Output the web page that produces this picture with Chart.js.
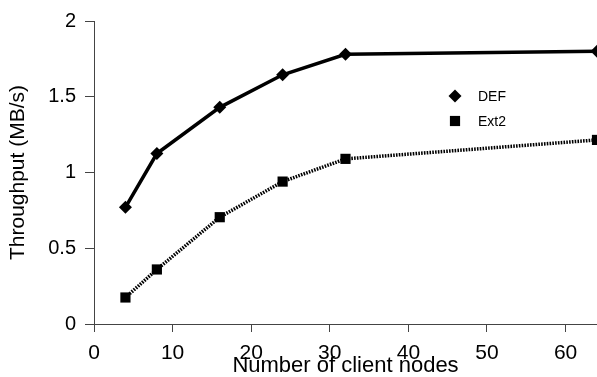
<!DOCTYPE html>
<html>
<head>
<meta charset="utf-8">
<script src="https://cdn.jsdelivr.net/npm/chart.js@4/dist/chart.umd.min.js"></script>
<style>
  html, body { margin: 0; padding: 0; background: #ffffff; }
  #wrap { width: 597px; height: 377px; position: relative; }
</style>
</head>
<body>
<div id="wrap"><canvas id="c" width="597" height="377"></canvas></div>
<script>
const clientNodes = [4, 8, 16, 24, 32, 64];
const defValues = [0.77, 1.125, 1.43, 1.645, 1.78, 1.80];
const ext2Values = [0.175, 0.36, 0.705, 0.94, 1.09, 1.215];
const seriesNames = ['DEF', 'Ext2'];
const xTitle = 'Number of client nodes';
const yTitle = 'Throughput (MB/s)';

const axisColor = '#444444';
const fontFamily = '"Liberation Sans", Arial, Helvetica, sans-serif';

const legendInArea = {
  id: 'legendInArea',
  afterDatasetsDraw(chart) {
    const ctx = chart.ctx;
    const items = [
      { x: 455, y: 96, ds: chart.data.datasets[0] },
      { x: 455, y: 121, ds: chart.data.datasets[1] }
    ];
    ctx.save();
    ctx.font = '14px ' + fontFamily;
    ctx.textBaseline = 'middle';
    ctx.textAlign = 'left';
    items.forEach(it => {
      ctx.fillStyle = '#000';
      ctx.beginPath();
      if (it.ds.pointStyle === 'rectRot') {
        const r = it.ds.pointRadius;
        ctx.moveTo(it.x - r, it.y);
        ctx.lineTo(it.x, it.y - r);
        ctx.lineTo(it.x + r, it.y);
        ctx.lineTo(it.x, it.y + r);
        ctx.closePath();
      } else {
        const s = it.ds.pointRadius * Math.SQRT1_2;
        ctx.rect(it.x - s, it.y - s, 2 * s, 2 * s);
      }
      ctx.fill();
      ctx.fillText(it.ds.label, 478, it.y + 1);
    });
    ctx.restore();
  }
};

new Chart(document.getElementById('c'), {
  type: 'line',
  data: {
    datasets: [
      {
        label: seriesNames[0],
        data: clientNodes.map((x, i) => ({ x: x, y: defValues[i] })),
        borderColor: '#000000',
        backgroundColor: '#000000',
        borderWidth: 3.5,
        pointStyle: 'rectRot',
        pointRadius: 6.5,
        pointBorderWidth: 0,
        pointBackgroundColor: '#000000',
        tension: 0,
        fill: false
      },
      {
        label: seriesNames[1],
        data: clientNodes.map((x, i) => ({ x: x, y: ext2Values[i] })),
        borderColor: '#000000',
        backgroundColor: '#000000',
        borderWidth: 3.5,
        borderDash: [1.6, 1.2],
        pointStyle: 'rect',
        pointRadius: 7.2,
        pointBorderWidth: 0,
        pointBackgroundColor: '#000000',
        tension: 0,
        fill: false
      }
    ]
  },
  options: {
    responsive: false,
    animation: false,
    devicePixelRatio: 1,
    layout: { autoPadding: false, padding: { top: 19, right: 0, bottom: 0, left: 0 } },
    plugins: {
      legend: { display: false },
      tooltip: { enabled: false },
      title: { display: false }
    },
    scales: {
      x: {
        type: 'linear',
        min: 0,
        max: 64,
        afterFit(scale) { scale.height = 53; },
        ticks: {
          stepSize: 10,
          includeBounds: false,
          color: '#000000',
          padding: 9,
          maxRotation: 0,
          font: { family: fontFamily, size: 21 }
        },
        grid: {
          drawOnChartArea: false,
          drawTicks: true,
          tickLength: 8,
          color: axisColor,
          lineWidth: 1
        },
        border: { display: true, color: axisColor, width: 1 },
        title: {
          display: true,
          text: xTitle,
          color: '#000000',
          padding: { top: 0, bottom: 0 },
          font: { family: fontFamily, size: 22, lineHeight: 1 }
        }
      },
      y: {
        min: 0,
        max: 2,
        afterFit(scale) { scale.width = 94; },
        ticks: {
          stepSize: 0.5,
          color: '#000000',
          padding: 9,
          callback: (v) => String(Math.round(v * 10) / 10),
          font: { family: fontFamily, size: 20 }
        },
        grid: {
          drawOnChartArea: false,
          drawTicks: true,
          tickLength: 9,
          color: axisColor,
          lineWidth: 1
        },
        border: { display: true, color: axisColor, width: 1 },
        title: {
          display: true,
          text: yTitle,
          color: '#000000',
          padding: { top: 8, bottom: 0 },
          font: { family: fontFamily, size: 21, lineHeight: 1 }
        }
      }
    }
  },
  plugins: [legendInArea]
});
</script>
</body>
</html>
